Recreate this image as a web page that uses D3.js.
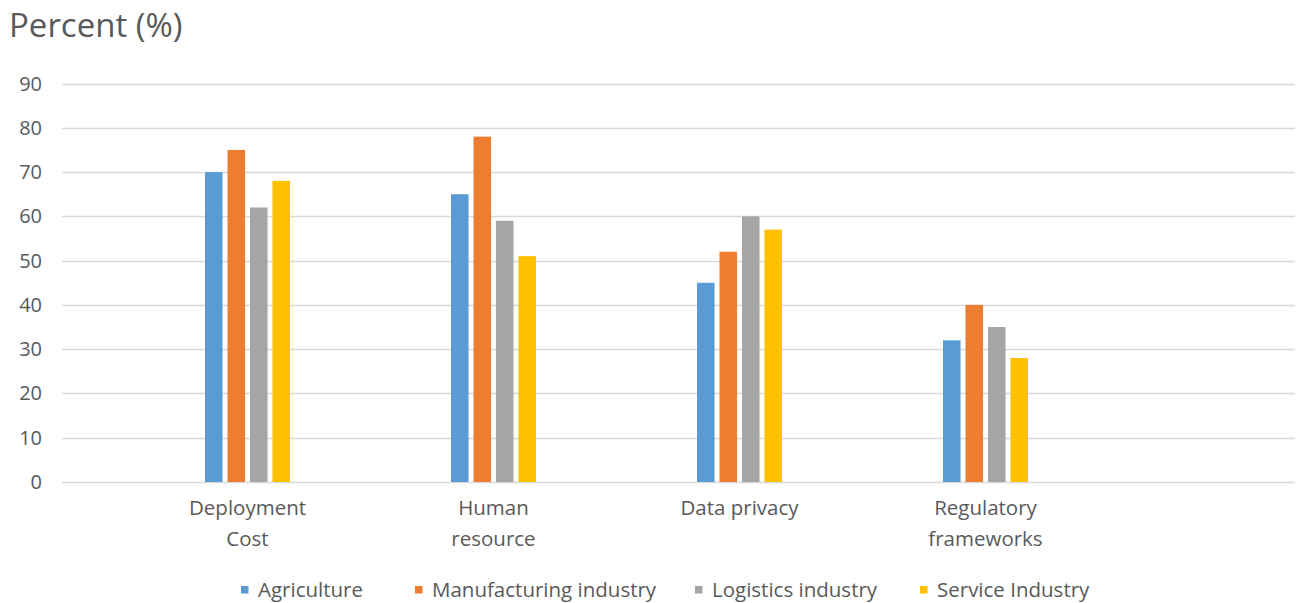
<!DOCTYPE html>
<html><head><meta charset="utf-8">
<script src="https://cdn.jsdelivr.net/npm/d3@7"></script>
<style>
body{margin:0;background:#fff;}
svg text{font-family:"Open Sans",sans-serif;fill:#595959;}
</style></head>
<body><svg id="c" width="1300" height="603"></svg>
<script>
const categories = [["Deployment","Cost"],["Human","resource"],["Data privacy"],["Regulatory","frameworks"]];
const series = ["Agriculture","Manufacturing industry","Logistics industry","Service Industry"];
const colors = ["#5B9BD5","#ED7D31","#A5A5A5","#FFC000"];
const agriculture = [70,65,45,32];
const manufacturing = [75,78,52,40];
const logistics = [62,59,60,35];
const service = [68,51,57,28];
const yTicks = [0,10,20,30,40,50,60,70,80,90];
const values = [agriculture, manufacturing, logistics, service];

const svg = d3.select("#c");
const gridLeft = 62, gridRight = 1295;
const y = d3.scaleLinear().domain([0,90]).range([482,83.5]);
const x = d3.scaleBand().domain(d3.range(categories.length)).range([124.5,1108.5]);
const groupW = 85;
const xs = d3.scaleBand().domain(d3.range(series.length)).range([0,groupW]).paddingInner(0.22);

svg.append("g").selectAll("line").data(yTicks).join("line")
  .attr("x1",gridLeft).attr("x2",gridRight)
  .attr("y1",d=>Math.round(y(d))+0.5).attr("y2",d=>Math.round(y(d))+0.5)
  .attr("stroke","#D9D9D9").attr("stroke-width",1.3);

svg.append("g").selectAll("text").data(yTicks).join("text")
  .attr("x",42).attr("y",d=>y(d)+7).attr("text-anchor","end")
  .attr("font-size",20).text(d=>d);

categories.forEach((c,i)=>{
  const gx = x(i) + x.bandwidth()/2 - groupW/2;
  svg.append("g").selectAll("rect").data(values.map((s,j)=>({v:s[i],j}))).join("rect")
    .attr("x",d=>gx+xs(d.j)).attr("width",xs.bandwidth())
    .attr("y",d=>y(d.v)).attr("height",d=>y(0)-y(d.v))
    .attr("fill",d=>colors[d.j]);
});

categories.forEach((c,i)=>{
  const cx = x(i)+x.bandwidth()/2;
  const t = svg.append("text").attr("x",cx).attr("y",515)
    .attr("text-anchor","middle").attr("font-size",20.5);
  c.forEach((line,k)=>t.append("tspan").attr("x",cx).attr("dy",k?31:0).text(line));
});

svg.append("text").attr("x",9).attr("y",37).attr("font-size",33).text("Percent (%)");

const legX = [241,415,695,920];
series.forEach((s,j)=>{
  svg.append("rect").attr("x",legX[j]).attr("y",586).attr("width",7.5).attr("height",7.5).attr("fill",colors[j]);
  svg.append("text").attr("x",legX[j]+17).attr("y",597).attr("font-size",20.5).text(s);
});
</script></body></html>
